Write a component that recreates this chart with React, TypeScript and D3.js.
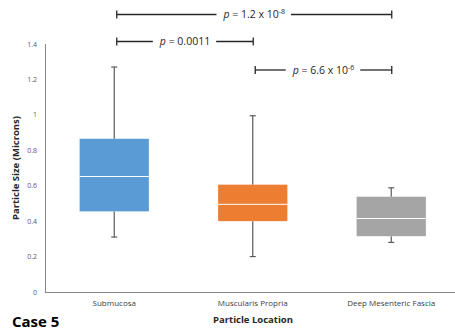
import React, { useEffect, useRef } from 'react';
import * as d3 from 'd3';

const categories = ['Submucosa', 'Muscularis Propria', 'Deep Mesenteric Fascia'];
const whiskerLow = [0.31, 0.2, 0.28];
const q1 = [0.455, 0.4, 0.315];
const median = [0.652, 0.495, 0.415];
const q3 = [0.865, 0.606, 0.538];
const whiskerHigh = [1.27, 0.995, 0.588];
const colors = ['#5B9BD5', '#ED7D31', '#A5A5A5'];
const yTicks = [0, 0.2, 0.4, 0.6, 0.8, 1, 1.2, 1.4];

// comparisons: from, to, label mantissa, exponent
const comparisons = [
  { from: 0, to: 2, text: '1.2 x 10', exp: '-8', level: 0 },
  { from: 0, to: 1, text: '0.0011', exp: '', level: 1 },
  { from: 1, to: 2, text: '6.6 x 10', exp: '-6', level: 2 },
];

const W = 455;
const H = 331;
const FONT = "'Open Sans', 'Noto Sans', sans-serif";

const App = () => {
  const svgRef = useRef<SVGSVGElement>(null);

  useEffect(() => {
    const svg = d3.select(svgRef.current);
    svg.selectAll('*').remove();

    const x = d3.scaleBand().domain(categories).range([45, 460.5])
      .paddingInner(0.5).paddingOuter(0.25);
    const y = d3.scaleLinear().domain([0, 1.4]).range([292, 44]);

    // axes lines
    svg.append('line').attr('x1', 45.5).attr('x2', 45.5).attr('y1', y(1.4)).attr('y2', y(0))
      .attr('stroke', '#868686').attr('stroke-width', 1);
    svg.append('line').attr('x1', 45).attr('x2', W).attr('y1', y(0) + 0.5).attr('y2', y(0) + 0.5)
      .attr('stroke', '#868686').attr('stroke-width', 1);

    svg.append('g').selectAll('text').data(yTicks).enter().append('text')
      .attr('x', 37).attr('y', d => y(d) + 2.5)
      .attr('text-anchor', 'end').attr('font-size', 7).attr('fill', '#595959')
      .attr('font-family', FONT)
      .text(d => String(d));

    svg.append('g').selectAll('text').data(categories).enter().append('text')
      .attr('x', d => x(d)! + x.bandwidth() / 2).attr('y', 306)
      .attr('text-anchor', 'middle').attr('font-size', 8).attr('fill', '#404040')
      .attr('font-family', FONT)
      .text(d => d);

    const groups = svg.append('g').selectAll('g').data(categories).enter().append('g');
    groups.each(function (c, i) {
      const g = d3.select(this);
      const cx = x(c)! + x.bandwidth() / 2;
      const stroke = '#595959';
      g.append('line').attr('x1', cx).attr('x2', cx).attr('y1', y(whiskerHigh[i])).attr('y2', y(q3[i]))
        .attr('stroke', stroke).attr('stroke-width', 1.2);
      g.append('line').attr('x1', cx).attr('x2', cx).attr('y1', y(q1[i])).attr('y2', y(whiskerLow[i]))
        .attr('stroke', stroke).attr('stroke-width', 1.2);
      g.append('line').attr('x1', cx - 3).attr('x2', cx + 3).attr('y1', y(whiskerHigh[i])).attr('y2', y(whiskerHigh[i]))
        .attr('stroke', stroke).attr('stroke-width', 1.2);
      g.append('line').attr('x1', cx - 3).attr('x2', cx + 3).attr('y1', y(whiskerLow[i])).attr('y2', y(whiskerLow[i]))
        .attr('stroke', stroke).attr('stroke-width', 1.2);
      g.append('rect').attr('x', x(c)!).attr('width', x.bandwidth())
        .attr('y', y(q3[i])).attr('height', y(q1[i]) - y(q3[i]))
        .attr('fill', colors[i]);
      g.append('line').attr('x1', x(c)!).attr('x2', x(c)! + x.bandwidth())
        .attr('y1', y(median[i])).attr('y2', y(median[i]))
        .attr('stroke', '#ffffff').attr('stroke-width', 1);
    });

    // significance brackets
    const levelY = [14.5, 41.5, 70];
    comparisons.forEach(cmp => {
      const x1 = x(categories[cmp.from])! + x.bandwidth() / 2 + 2.5;
      const x2 = x(categories[cmp.to])! + x.bandwidth() / 2 + 0.5;
      const yy = levelY[cmp.level];
      const mid = (x1 + x2) / 2;
      const t = svg.append('text').attr('x', mid).attr('y', yy + 3.5)
        .attr('text-anchor', 'middle').attr('font-size', 10.5).attr('fill', '#262626')
        .attr('font-family', FONT);
      t.append('tspan').attr('font-style', 'italic').text('p');
      t.append('tspan').text(' = ' + cmp.text);
      if (cmp.exp) t.append('tspan').attr('font-size', 7).attr('dy', -4).text(cmp.exp);
      const bb = (t.node() as SVGTextElement).getBBox();
      const gap = 6;
      const g = svg.append('g').attr('stroke', '#262626').attr('stroke-width', 1.3);
      g.append('line').attr('x1', x1).attr('x2', bb.x - gap).attr('y1', yy).attr('y2', yy);
      g.append('line').attr('x1', bb.x + bb.width + gap).attr('x2', x2).attr('y1', yy).attr('y2', yy);
      g.append('line').attr('x1', x1).attr('x2', x1).attr('y1', yy - 4).attr('y2', yy + 4);
      g.append('line').attr('x1', x2).attr('x2', x2).attr('y1', yy - 4).attr('y2', yy + 4);
    });

    svg.append('text')
      .attr('transform', `translate(19,${168}) rotate(-90)`)
      .attr('text-anchor', 'middle').attr('font-size', 9.5).attr('font-weight', 'bold')
      .attr('fill', '#262626').attr('font-family', FONT)
      .text('Particle Size (Microns)');

    svg.append('text').attr('x', 253).attr('y', 323)
      .attr('text-anchor', 'middle').attr('font-size', 9.5).attr('font-weight', 'bold')
      .attr('fill', '#262626').attr('font-family', FONT)
      .text('Particle Location');

    svg.append('text').attr('x', 12).attr('y', 327)
      .attr('font-size', 15).attr('font-weight', 'bold')
      .attr('fill', '#000000').attr('font-family', FONT)
      .text('Case 5');
  }, []);

  return (
    <svg ref={svgRef} width={W} height={H}
      style={{ position: 'absolute', left: 0, top: 0, background: '#fff' }} />
  );
};

export default App;
